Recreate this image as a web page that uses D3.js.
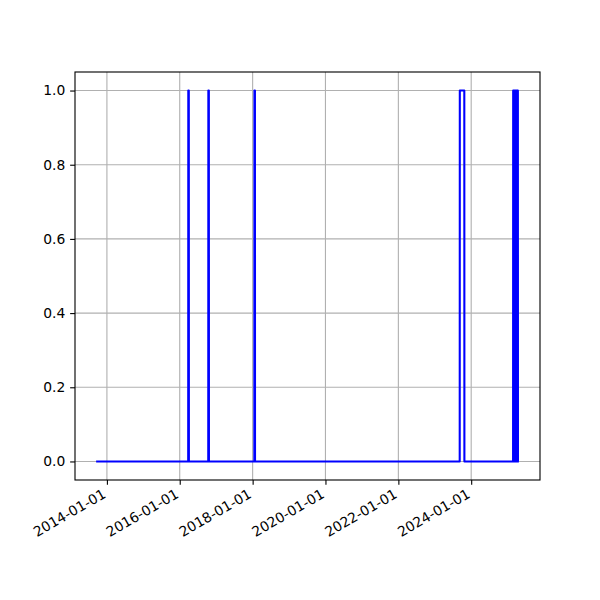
<!DOCTYPE html>
<html>
<head>
<meta charset="utf-8">
<script src="https://cdn.jsdelivr.net/npm/d3@7"></script>
<style>
  html, body { margin: 0; padding: 0; background: #fff; }
  svg { display: block; }
  text { font-family: "DejaVu Sans", sans-serif; }
</style>
</head>
<body>
<svg id="chart" width="600" height="600"></svg>
<script>
// ---- data (transitions of a 0/1 signal) ----
const dates = [
  "2013-09-15",
  "2016-03-26", "2016-03-27", "2016-04-01", "2016-04-02",
  "2016-10-13", "2016-10-14", "2016-10-19", "2016-10-20",
  "2018-01-18", "2018-01-19", "2018-01-24", "2018-01-25",
  "2023-09-08", "2023-09-09", "2023-10-24", "2023-10-25",
  "2025-02-24", "2025-02-25", "2025-02-26",
  "2025-03-04", "2025-03-05", "2025-03-06",
  "2025-03-12", "2025-03-13", "2025-03-14",
  "2025-03-20", "2025-03-21", "2025-03-22",
  "2025-03-28", "2025-03-29", "2025-03-30",
  "2025-04-05", "2025-04-06", "2025-04-07",
  "2025-04-12", "2025-04-13", "2025-04-14",
  "2025-04-23"
];
const values = [
  0,
  0, 1, 1, 0,
  0, 1, 1, 0,
  0, 1, 1, 0,
  0, 1, 1, 0,
  0, 1, 0,
  0, 1, 0,
  0, 1, 0,
  0, 1, 0,
  0, 1, 0,
  0, 1, 0,
  0, 1, 0,
  0
];
const yTicks = [0.0, 0.2, 0.4, 0.6, 0.8, 1.0];
const xTickLabels = ["2014-01-01", "2016-01-01", "2018-01-01", "2020-01-01", "2022-01-01", "2024-01-01"];

// ---- layout ----
const L = 75, R = 540, T = 72, B = 480;
const pt = 100 / 72;
const parse = d3.utcParse("%Y-%m-%d");
const series = dates.map((d, i) => ({ t: parse(d), v: values[i] }));

const t0 = d3.min(series, d => d.t), t1 = d3.max(series, d => d.t);
const span = t1 - t0;
const x = d3.scaleUtc()
  .domain([new Date(+t0 - 0.05 * span), new Date(+t1 + 0.05 * span)])
  .range([L, R]);
const y = d3.scaleLinear().domain([-0.05, 1.05]).range([B, T]);

const svg = d3.select("#chart");
const fs = 10 * pt;

// grid
const xt = xTickLabels.map(parse);
const grid = svg.append("g");
grid.selectAll("line.gx").data(xt).enter().append("line")
  .attr("x1", d => x(d)).attr("x2", d => x(d)).attr("y1", T).attr("y2", B)
  .attr("stroke", "#b0b0b0").attr("stroke-width", 0.8 * pt);
grid.selectAll("line.gy").data(yTicks).enter().append("line")
  .attr("x1", L).attr("x2", R).attr("y1", d => y(d)).attr("y2", d => y(d))
  .attr("stroke", "#b0b0b0").attr("stroke-width", 0.8 * pt);

// line
svg.append("defs").append("clipPath").attr("id", "clip")
  .append("rect").attr("x", L).attr("y", T).attr("width", R - L).attr("height", B - T);
svg.append("path")
  .datum(series)
  .attr("clip-path", "url(#clip)")
  .attr("fill", "none")
  .attr("stroke", "#0000ff")
  .attr("stroke-width", 1.5 * pt)
  .attr("stroke-linejoin", "round")
  .attr("stroke-linecap", "butt")
  .attr("d", d3.line().x(d => x(d.t)).y(d => y(d.v)));

// spines
svg.append("rect").attr("x", L).attr("y", T).attr("width", R - L).attr("height", B - T)
  .attr("fill", "none").attr("stroke", "#000").attr("stroke-width", 0.8 * pt);

// y axis
const tickLen = 3.5 * pt, pad = 3.5 * pt;
const yAxis = svg.append("g").attr("transform", `translate(${L},0)`)
  .call(d3.axisLeft(y).tickValues(yTicks).tickFormat(d3.format(".1f"))
        .tickSize(tickLen).tickPadding(pad));
yAxis.select(".domain").remove();
yAxis.selectAll("line").attr("stroke", "#000").attr("stroke-width", 0.8 * pt);
yAxis.selectAll("text").attr("font-size", fs).attr("fill", "#000")
  .attr("font-family", "DejaVu Sans");

// x axis
const xAxis = svg.append("g").attr("transform", `translate(0,${B})`)
  .call(d3.axisBottom(x).tickValues(xt).tickFormat(d3.utcFormat("%Y-%m-%d"))
        .tickSize(tickLen).tickPadding(pad));
xAxis.select(".domain").remove();
xAxis.selectAll("line").attr("stroke", "#000").attr("stroke-width", 0.8 * pt);
const h = 0.996 * fs, desc = 0.236 * fs;
xAxis.selectAll(".tick text")
  .attr("font-size", fs).attr("fill", "#000").attr("font-family", "DejaVu Sans")
  .attr("text-anchor", "end")
  .attr("dy", null)
  .attr("y", -desc)
  .attr("transform", `translate(1,${tickLen + pad + 0.866 * h - 2}) rotate(-30)`);
</script>
</body>
</html>
